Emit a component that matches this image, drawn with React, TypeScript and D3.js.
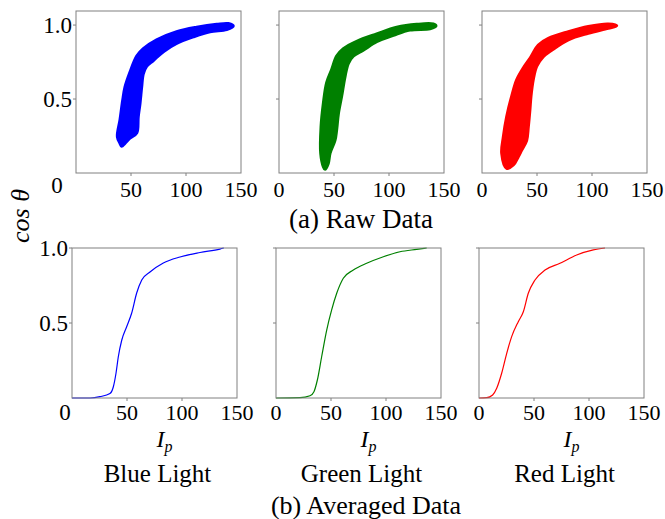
import React from 'react'
import * as d3 from 'd3'

const width = 665
const height = 519
const serif = "'Liberation Serif', 'Times New Roman', Times, 'DejaVu Serif', serif"

const lightNames = ['Blue Light', 'Green Light', 'Red Light']
const lightColors = ['#0000ff', '#008000', '#ff0000']
const xTicks = [0, 50, 100, 150]
const yTicks = [0.5, 1.0]

// outline of the raw point cloud [Ip, cos θ]: up the left edge, back down the right edge
const blueRaw = [
  [40, 0.2], [37.6, 0.245], [40, 0.36], [42.4, 0.49], [44.5, 0.58], [49, 0.68], [55.2, 0.79],
  [61.2, 0.84], [73.3, 0.9], [91.5, 0.955], [109.7, 0.985], [128, 1.005], [138.5, 1.01], [143, 0.993],
  [137, 0.97], [121.8, 0.955], [106.6, 0.92], [91.5, 0.876], [79.4, 0.82], [70.3, 0.76], [64.2, 0.72],
  [61.2, 0.67], [59.7, 0.58], [58.2, 0.47], [56.6, 0.38], [55.2, 0.27], [49, 0.235], [44.5, 0.2], [41.5, 0.18],
]
const greenRaw = [
  [40.3, 0.043], [37.9, 0.133], [38.2, 0.31], [40.3, 0.47], [43.3, 0.61], [47.9, 0.7], [52.4, 0.79],
  [58.5, 0.84], [70.6, 0.89], [88.8, 0.94], [107, 0.985], [125.2, 1.005], [140.3, 1.007], [142.7, 0.993],
  [137.3, 0.975], [119, 0.966], [104, 0.93], [88.8, 0.887], [76.6, 0.83], [67.5, 0.79], [63, 0.74],
  [60, 0.65], [57, 0.52], [54, 0.4], [52.4, 0.29], [50.9, 0.22], [46.4, 0.133], [44.8, 0.065], [41.8, 0.025],
]
const redRaw = [
  [22.4, 0.032], [17.9, 0.133], [19.4, 0.245], [22.4, 0.38], [27, 0.52], [31.5, 0.63], [37.5, 0.71],
  [43.6, 0.775], [51.2, 0.865], [60.3, 0.91], [78.5, 0.955], [96.6, 0.99], [114.8, 1.007], [122.5, 0.995],
  [114.8, 0.978], [96.6, 0.944], [78.5, 0.9], [63.4, 0.83], [55.7, 0.786], [49.7, 0.72], [46.6, 0.63],
  [44.5, 0.515], [43.6, 0.43], [42.1, 0.31], [40.6, 0.22], [36.1, 0.155], [33, 0.11], [28.5, 0.054],
]

// averaged curves [Ip, cos θ]
const blueAvg = [
  [0, 0], [16.4, 0], [25.5, 0.009], [34.5, 0.03], [37.6, 0.075], [40, 0.165], [42.1, 0.275], [45.2, 0.385],
  [49.7, 0.475], [54.2, 0.565], [58.8, 0.7], [63.4, 0.787], [70.9, 0.84], [83, 0.9], [98.2, 0.94],
  [116.4, 0.97], [134.5, 0.993], [138, 1.0],
]
const greenAvg = [
  [0, 0], [21.8, 0.002], [30.9, 0.015], [34.5, 0.042], [37.6, 0.12], [41.5, 0.275], [46.1, 0.453],
  [50.6, 0.587], [55.2, 0.698], [61.2, 0.798], [70.3, 0.853], [82.4, 0.898], [97.6, 0.942], [112.7, 0.975],
  [127.9, 0.991], [137, 1.0],
]
const redAvg = [
  [0, 0], [7, 0.002], [12.4, 0.02], [16.1, 0.065], [20.6, 0.165], [25.2, 0.298], [29.7, 0.409], [35.7, 0.509],
  [40.3, 0.575], [44.8, 0.698], [50.9, 0.787], [60, 0.853], [73.6, 0.898], [88.8, 0.953], [103.9, 0.987],
  [114.5, 1.0],
]

const rawSets = [blueRaw, greenRaw, redRaw]
const avgSets = [blueAvg, greenAvg, redAvg]

const panelW = 165
const topLefts = [76, 279, 482]
const bottomLefts = [72, 276, 479]
const top = { y0: 11, y1: 173 }
const bottom = { y0: 248, y1: 398 }
const frameColor = '#808080'
const txt = { fontFamily: serif, fill: '#000' }

function Frame({ x0, y0, y1, x, y }) {
  return (
    <g>
      <rect x={x0} y={y0} width={panelW} height={y1 - y0} fill="none" stroke={frameColor} strokeWidth={1} />
      {yTicks.map(t => (
        <line key={'y' + t} x1={x0 - 3} x2={x0} y1={y(t)} y2={y(t)} stroke={frameColor} />
      ))}
      {xTicks.slice(1, 3).map(t => (
        <line key={'x' + t} x1={x(t)} x2={x(t)} y1={y1} y2={y1 + 3} stroke={frameColor} />
      ))}
    </g>
  )
}

function TickLabels({ i, x, y, xBase, yAnchor, zeroPos }) {
  const xs = i === 0 ? xTicks.slice(1) : xTicks
  return (
    <g style={txt}>
      {xs.map(t => (
        <text key={'xl' + t} x={x(t)} y={xBase} fontSize={22} textAnchor="middle">{t}</text>
      ))}
      {i === 0 && yTicks.map(t => (
        <text key={'yl' + t} x={yAnchor} y={y(t)} dy="0.34em" fontSize={23} textAnchor="end">{t.toFixed(1)}</text>
      ))}
      {i === 0 && (
        <text x={zeroPos[0]} y={zeroPos[1]} fontSize={23} textAnchor="middle">0</text>
      )}
    </g>
  )
}

export default function App() {
  const yTop = d3.scaleLinear().domain([0, 1.095]).range([top.y1, top.y0])
  const yBottom = d3.scaleLinear().domain([0, 1]).range([bottom.y1, bottom.y0])

  return (
    <svg width={width} height={height} style={{ position: 'absolute', left: 0, top: 0, background: '#fff' }}>
      {topLefts.map((x0, i) => {
        const x = d3.scaleLinear().domain([0, 150]).range([x0, x0 + panelW])
        const outline = d3.line()
          .x(d => x(d[0]))
          .y(d => yTop(d[1]))
          .curve(d3.curveCatmullRomClosed.alpha(0.5))
        return (
          <g key={'top' + i}>
            <path d={outline(rawSets[i])} fill={lightColors[i]} stroke={lightColors[i]} strokeWidth={3} strokeLinejoin="round" />
            <Frame x0={x0} y0={top.y0} y1={top.y1} x={x} y={yTop} />
            <TickLabels i={i} x={x} y={yTop} xBase={197} yAnchor={x0 - 4} zeroPos={[57, 193]} />
          </g>
        )
      })}

      {bottomLefts.map((x0, i) => {
        const x = d3.scaleLinear().domain([0, 150]).range([x0, x0 + panelW])
        const curve = d3.line()
          .x(d => x(d[0]))
          .y(d => yBottom(d[1]))
          .curve(d3.curveMonotoneX)
        const cx = x0 + panelW / 2
        return (
          <g key={'bottom' + i}>
            <path d={curve(avgSets[i])} fill="none" stroke={lightColors[i]} strokeWidth={1.2} />
            <Frame x0={x0} y0={bottom.y0} y1={bottom.y1} x={x} y={yBottom} />
            <TickLabels i={i} x={x} y={yBottom} xBase={420} yAnchor={x0 - 4} zeroPos={[65, 420]} />
            <text x={cx + 10} y={447} style={{ ...txt, fontStyle: 'italic' }} fontSize={24} textAnchor="middle">
              I<tspan fontSize={16} dy={5}>p</tspan>
            </text>
            <text x={cx + 3} y={482} style={txt} fontSize={25} textAnchor="middle">{lightNames[i]}</text>
          </g>
        )
      })}

      <text x={361} y={228} style={txt} fontSize={27} textAnchor="middle">(a) Raw Data</text>
      <text x={366} y={514} style={txt} fontSize={26} textAnchor="middle">(b) Averaged Data</text>
      <text transform="translate(29,216) rotate(-90)" style={{ ...txt, fontStyle: 'italic' }} fontSize={26} textAnchor="middle">
        cos θ
      </text>
    </svg>
  )
}
